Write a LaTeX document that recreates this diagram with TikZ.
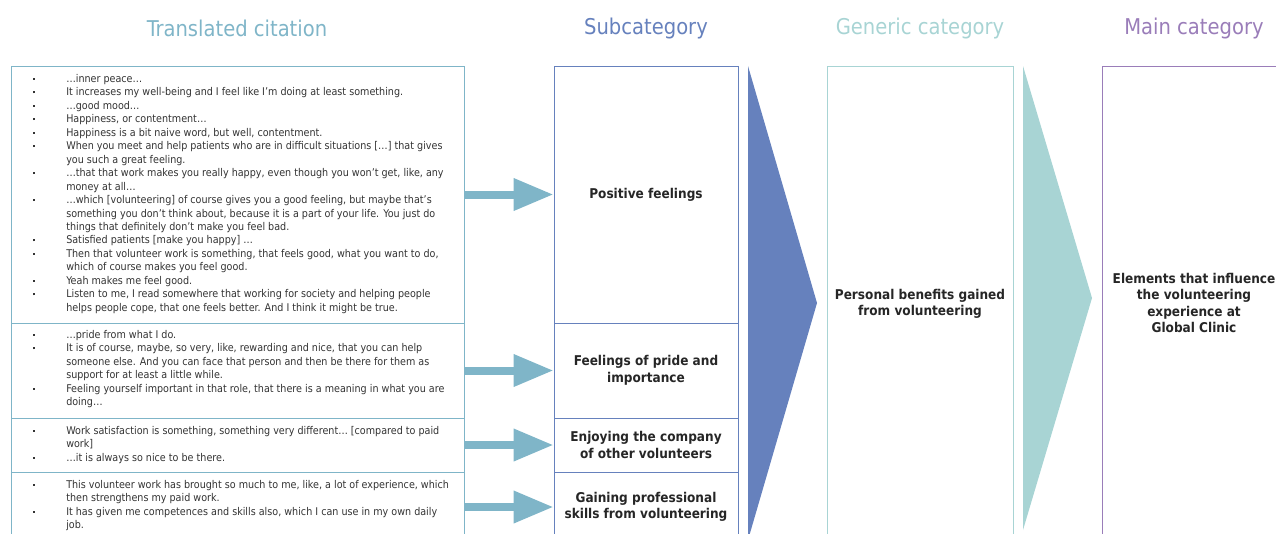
\documentclass[tikz,border=0pt]{standalone}
\usepackage{fontspec}
\setmainfont{DejaVu Sans Condensed}
\usetikzlibrary{positioning,arrows.meta}

\definecolor{citeblue}{HTML}{7FB5C8}
\definecolor{subblue}{HTML}{6681BD}
\definecolor{genteal}{HTML}{A8D4D4}
\definecolor{mainpurple}{HTML}{9A7DB9}
\definecolor{bodytext}{HTML}{333333}

% square bullet hanging left of the quote text
\newcommand\blt{\llap{\rule[1.9pt]{1.6pt}{1.6pt}\hspace{23.5pt}}}

\begin{document}
\begin{tikzpicture}[x=0.75pt, y=-0.75pt,
  column head/.style={font=\fontsize{16.3}{18}\selectfont},
  cite box/.style={draw=citeblue, line width=0.75pt, minimum width=339.75pt, inner sep=0pt},
  sub box/.style={draw=subblue, line width=0.75pt, minimum width=138pt, inner sep=0pt},
  cite text/.style={anchor=north west, align=left, inner sep=0pt, text=bodytext,
    font=\fontsize{8}{10.1}\selectfont},
  label/.style={font=\bfseries\fontsize{10.1}{12.4}\selectfont, align=center, text=black!85},
  feed/.style={citeblue, line width=6pt, -{Triangle[length=30pt, width=23pt]}}
]

  \useasboundingbox (0,0) rectangle (1276,533);
  \clip (0,0) rectangle (1276,533);

  % column headings
  \node [column head, text=citeblue] (head-cite) at (237,28) {Translated citation};
  \node [column head, text=subblue] (head-sub) at (646,28) {Subcategory};
  \node [column head, text=genteal] (head-gen) at (920,28) {Generic category};
  \node [column head, text=mainpurple] (head-main) at (1194,28) {Main category};

  % quote boxes and subcategory boxes, one row each
  \foreach \i/\t/\b in {1/66/323, 2/323/418, 3/418/472, 4/472/542} {
    \node [cite box, minimum height=(\b-\t)*0.75pt] (cite-\i) at (237.5,{(\t+\b)/2}) {};
    \node [sub box, minimum height=(\b-\t)*0.75pt] (sub-\i) at (646,{(\t+\b)/2}) {};
  }

  \foreach \l [count=\i] in {Positive feelings,
      {Feelings of pride and\\importance},
      {Enjoying the company\\of other volunteers},
      {Gaining professional\\skills from volunteering}}
  \node [label] at (sub-\i) {\l};

  \foreach \i in {1,...,4}
  \draw [feed] (cite-\i.east) -- (sub-\i.west);

  % quotes
  \node [cite text] (quote-1) at (66,74) {%
    \blt …inner peace…\\
    \blt It increases my well-being and I feel like I’m doing at least something.\\
    \blt …good mood…\\
    \blt Happiness, or contentment…\\
    \blt Happiness is a bit naive word, but well, contentment.\\
    \blt When you meet and help patients who are in difficult situations […] that gives\\
    you such a great feeling.\\
    \blt …that that work makes you really happy, even though you won’t get, like, any\\
    money at all…\\
    \blt …which [volunteering] of course gives you a good feeling, but maybe that’s\\
    something you don’t think about, because it is a part of your life. You just do\\
    things that definitely don’t make you feel bad.\\
    \blt Satisfied patients [make you happy] …\\
    \blt Then that volunteer work is something, that feels good, what you want to do,\\
    which of course makes you feel good.\\
    \blt Yeah makes me feel good.\\
    \blt Listen to me, I read somewhere that working for society and helping people\\
    helps people cope, that one feels better. And I think it might be true.};

  \node [cite text] (quote-2) at (66,330) {%
    \blt …pride from what I do.\\
    \blt It is of course, maybe, so very, like, rewarding and nice, that you can help\\
    someone else. And you can face that person and then be there for them as\\
    support for at least a little while.\\
    \blt Feeling yourself important in that role, that there is a meaning in what you are\\
    doing…};

  \node [cite text] (quote-3) at (66,426) {%
    \blt Work satisfaction is something, something very different… [compared to paid\\
    work]\\
    \blt …it is always so nice to be there.};

  \node [cite text] (quote-4) at (66,480) {%
    \blt This volunteer work has brought so much to me, like, a lot of experience, which\\
    then strengthens my paid work.\\
    \blt It has given me competences and skills also, which I can use in my own daily\\
    job.};

  % wedges pointing to the next level
  \fill [subblue] (748,66) -- (817,303) -- (748,540) -- cycle;
  \fill [genteal] (1023,66) -- (1092,298) -- (1023,530) -- cycle;

  \node [draw=genteal, line width=0.75pt, minimum width=139.5pt, minimum height=357pt,
    label] (generic) at (920,304) {Personal benefits gained\\from volunteering};
  \node [draw=mainpurple, line width=0.75pt, minimum width=138pt, minimum height=355.5pt,
    label] (main) at (1194,303) {Elements that influence\\the volunteering\\experience at\\Global Clinic};

\end{tikzpicture}
\end{document}
